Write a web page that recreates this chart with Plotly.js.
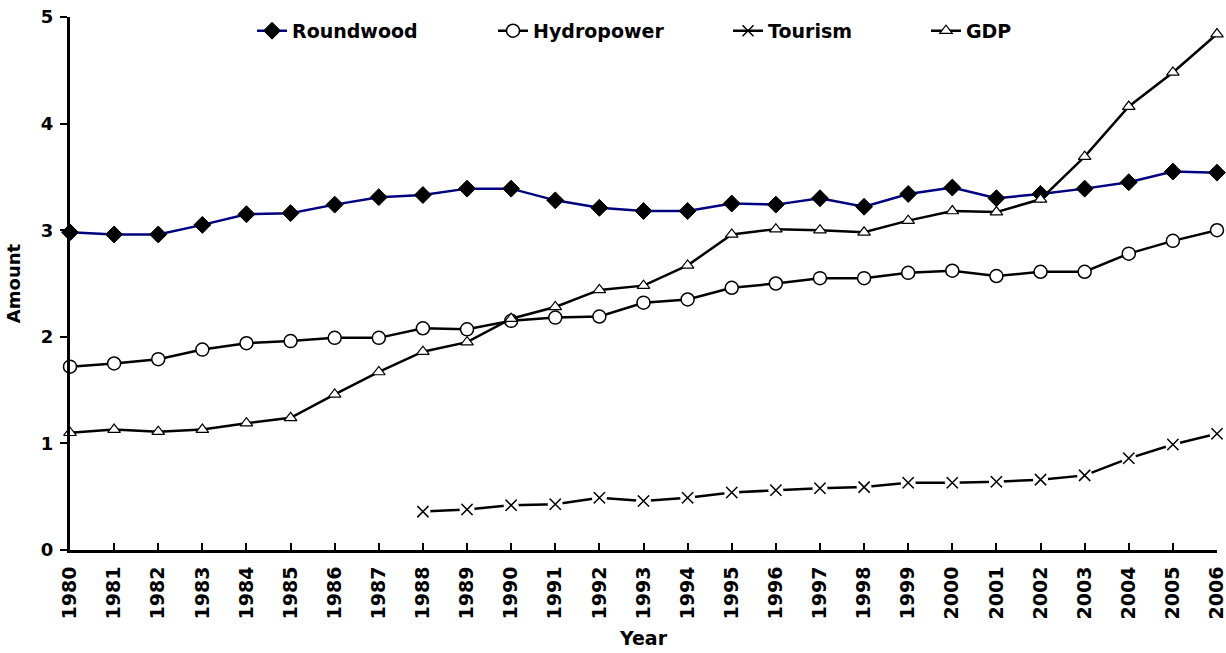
<!DOCTYPE html>
<html>
<head>
<meta charset="utf-8">
<script src="https://cdn.plot.ly/plotly-3.0.1.min.js"></script>
<style>html,body{margin:0;padding:0;background:#fff;}#chart{width:1226px;height:653px;}</style>
</head>
<body>
<div id="chart"></div>
<script>
const years = [1980,1981,1982,1983,1984,1985,1986,1987,1988,1989,1990,1991,1992,1993,1994,1995,1996,1997,1998,1999,2000,2001,2002,2003,2004,2005,2006];
const roundwood = [2.98,2.96,2.96,3.05,3.15,3.16,3.24,3.31,3.33,3.39,3.39,3.28,3.21,3.18,3.18,3.25,3.24,3.30,3.22,3.34,3.40,3.30,3.34,3.39,3.45,3.55,3.54];
const hydropower = [1.72,1.75,1.79,1.88,1.94,1.96,1.99,1.99,2.08,2.07,2.15,2.18,2.19,2.32,2.35,2.46,2.50,2.55,2.55,2.60,2.62,2.57,2.61,2.61,2.78,2.90,3.00];
const tourismYears = [1988,1989,1990,1991,1992,1993,1994,1995,1996,1997,1998,1999,2000,2001,2002,2003,2004,2005,2006];
const tourism = [0.36,0.38,0.42,0.43,0.49,0.46,0.49,0.54,0.56,0.58,0.59,0.63,0.63,0.64,0.66,0.70,0.86,0.99,1.09];
const gdp = [1.10,1.13,1.11,1.13,1.19,1.24,1.46,1.67,1.86,1.95,2.17,2.28,2.44,2.48,2.67,2.96,3.01,3.00,2.98,3.09,3.18,3.17,3.29,3.69,4.16,4.48,4.84];

const FONT = 'DejaVu Sans, Arial, sans-serif';

const traces = [
  {x: years, y: roundwood, name: 'Roundwood', mode: 'lines+markers', legend: 'legend',
   line: {color: '#000080', width: 2.5},
   marker: {symbol: 'diamond', size: 13, color: '#000000', line: {color: '#000000', width: 1}}, cliponaxis: false},
  {x: years, y: hydropower, name: 'Hydropower', mode: 'lines+markers', legend: 'legend2',
   line: {color: '#000000', width: 2.5},
   marker: {symbol: 'circle', size: 13, color: '#ffffff', line: {color: '#000000', width: 1.5}}, cliponaxis: false},
  {x: tourismYears, y: tourism, name: 'Tourism', mode: 'lines+markers', legend: 'legend3',
   line: {color: '#000000', width: 2.5},
   marker: {symbol: 'x-thin-open', size: 11, color: '#000000', line: {color: '#000000', width: 1.5}}, cliponaxis: false},
  {x: tourismYears, y: tourism, mode: 'markers', showlegend: false, hoverinfo: 'skip',
   marker: {symbol: 'circle', size: 15, color: '#ffffff', line: {width: 0}}, cliponaxis: false},
  {x: tourismYears, y: tourism, mode: 'markers', showlegend: false,
   marker: {symbol: 'x-thin-open', size: 11, color: '#000000', line: {color: '#000000', width: 1.5}}, cliponaxis: false},
  {x: years, y: gdp, name: 'GDP', mode: 'lines+markers', legend: 'legend4',
   line: {color: '#000000', width: 2.5},
   marker: {symbol: 'triangle-up', size: 11, color: '#ffffff', line: {color: '#000000', width: 1.2}}, cliponaxis: false}
];

const legBase = {orientation: 'h', yanchor: 'middle', y: 0.974, xanchor: 'left',
  font: {family: FONT, size: 19, color: '#000000', weight: 'bold'}, bgcolor: 'rgba(0,0,0,0)', itemwidth: 30};

const layout = {
  width: 1226, height: 653,
  margin: {l: 70, r: 9, t: 17, b: 103},
  paper_bgcolor: '#ffffff', plot_bgcolor: '#ffffff',
  font: {family: FONT, color: '#000000'},
  showlegend: true,
  legend: Object.assign({}, legBase, {x: 0.1587}),
  legend2: Object.assign({}, legBase, {x: 0.3688}),
  legend3: Object.assign({}, legBase, {x: 0.5737}),
  legend4: Object.assign({}, legBase, {x: 0.7463}),
  xaxis: {
    range: [1980, 2006], tickmode: 'array', tickvals: years, ticktext: years.map(String),
    tickangle: -90, ticks: 'inside', ticklen: 7, tickwidth: 2, tickcolor: '#000000',
    showline: true, linecolor: '#000000', linewidth: 3, showgrid: false, zeroline: false,
    tickfont: {family: FONT, size: 19, color: '#000000', weight: 'bold'},
    ticklabelstandoff: 6, ticklabeloverflow: 'allow',
    title: {text: 'Year', font: {family: FONT, size: 19, color: '#000000', weight: 'bold'}, standoff: 14},
    automargin: false, fixedrange: true
  },
  yaxis: {
    range: [0, 5], dtick: 1, tick0: 0, ticks: 'outside', ticklen: 7, tickwidth: 2, tickcolor: '#000000',
    showline: true, linecolor: '#000000', linewidth: 3, showgrid: false, zeroline: false,
    tickfont: {family: FONT, size: 18, color: '#000000', weight: 'bold'},
    ticklabelstandoff: 3,
    title: {text: 'Amount', font: {family: FONT, size: 18, color: '#000000', weight: 'bold'}, standoff: 16},
    automargin: false, fixedrange: true
  }
};

Plotly.newPlot('chart', traces, layout, {displayModeBar: false, staticPlot: true});
</script>
</body>
</html>
